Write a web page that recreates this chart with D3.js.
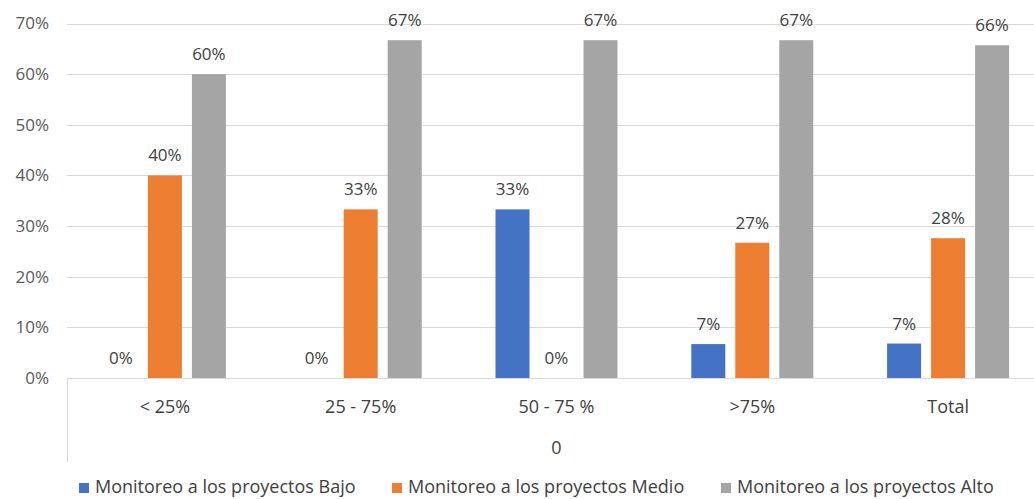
<!DOCTYPE html>
<html><head><meta charset="utf-8">
<script src="https://cdn.jsdelivr.net/npm/d3@7"></script>
<style>body{margin:0;background:#fff}svg{display:block}text{font-family:"Open Sans","Noto Sans",sans-serif}</style>
</head><body><svg id="c" width="1034" height="499"></svg>
<script>
const categories = ["< 25%", "25 - 75%", "50 - 75 %", ">75%", "Total"];
const seriesNames = ["Monitoreo a los proyectos Bajo", "Monitoreo a los proyectos Medio", "Monitoreo a los proyectos Alto"];
const bajo  = [0, 0, 0.333, 0.067, 0.068];
const medio = [0.40, 0.333, 0, 0.267, 0.276];
const alto  = [0.60, 0.667, 0.667, 0.667, 0.657];
const yTicks = [0, 0.1, 0.2, 0.3, 0.4, 0.5, 0.6, 0.7];
const groupLabel = "0";
const colors = ["#4472C4", "#ED7D31", "#A5A5A5"];

const svg = d3.select("#c");
const values = [bajo, medio, alto];
const x0 = d3.scaleBand().domain(categories).range([67, 1046]);
const x1 = d3.scaleBand().domain(seriesNames).range([0, 122]).paddingInner(10/44);
const y = d3.scaleLinear().domain([0, 0.7]).range([378, 23.5]);
const fmt = d3.format(".0%");
const FS = 18;

// gridlines
svg.append("g").selectAll("line").data(yTicks).join("line")
  .attr("x1", 67).attr("x2", 1046)
  .attr("y1", d => Math.round(y(d)) + 0.5).attr("y2", d => Math.round(y(d)) + 0.5)
  .attr("stroke", "#D9D9D9").attr("stroke-width", 1);

// y labels
svg.append("g").selectAll("text").data(yTicks).join("text")
  .attr("x", 49).attr("y", d => y(d)).attr("dy", "0.35em")
  .attr("text-anchor", "end").attr("font-size", FS - 1).attr("fill", "#595959")
  .text(d => fmt(d));

// vertical category axis line
svg.append("line").attr("x1", 67.5).attr("x2", 67.5).attr("y1", 378).attr("y2", 462)
  .attr("stroke", "#D9D9D9");

// bars
const groups = svg.append("g").selectAll("g").data(categories).join("g")
  .attr("transform", c => `translate(${x0(c) + (x0.bandwidth() - 122) / 2},0)`);
groups.each(function(c, ci) {
  const g = d3.select(this);
  seriesNames.forEach((s, si) => {
    const v = values[si][ci];
    g.append("rect").attr("x", x1(s)).attr("width", x1.bandwidth())
      .attr("y", y(v)).attr("height", y(0) - y(v)).attr("fill", colors[si]);
    g.append("text").attr("x", x1(s) + x1.bandwidth() / 2).attr("y", y(v) - 14)
      .attr("text-anchor", "middle").attr("font-size", FS - 1).attr("fill", "#404040")
      .text(fmt(v));
  });
});

// category labels
svg.append("g").selectAll("text").data(categories).join("text")
  .attr("x", c => x0(c) + x0.bandwidth() / 2).attr("y", 407).attr("dy", "0.35em")
  .attr("text-anchor", "middle").attr("font-size", FS).attr("fill", "#404040")
  .text(c => c);

svg.append("text").attr("x", (67 + 1046) / 2).attr("y", 448).attr("dy", "0.35em")
  .attr("text-anchor", "middle").attr("font-size", FS).attr("fill", "#404040").text(groupLabel);

// legend
const legStarts = [79, 392, 721];
const leg = svg.append("g").selectAll("g").data(seriesNames).join("g")
  .attr("transform", (d, i) => `translate(${legStarts[i]},487)`);
leg.append("rect").attr("x", 0).attr("y", -4).attr("width", 10).attr("height", 10)
  .attr("fill", (d, i) => colors[i]);
leg.append("text").attr("x", 16).attr("y", 0).attr("dy", "0.35em")
  .attr("font-size", FS).attr("fill", "#404040").text(d => d);
</script></body></html>
